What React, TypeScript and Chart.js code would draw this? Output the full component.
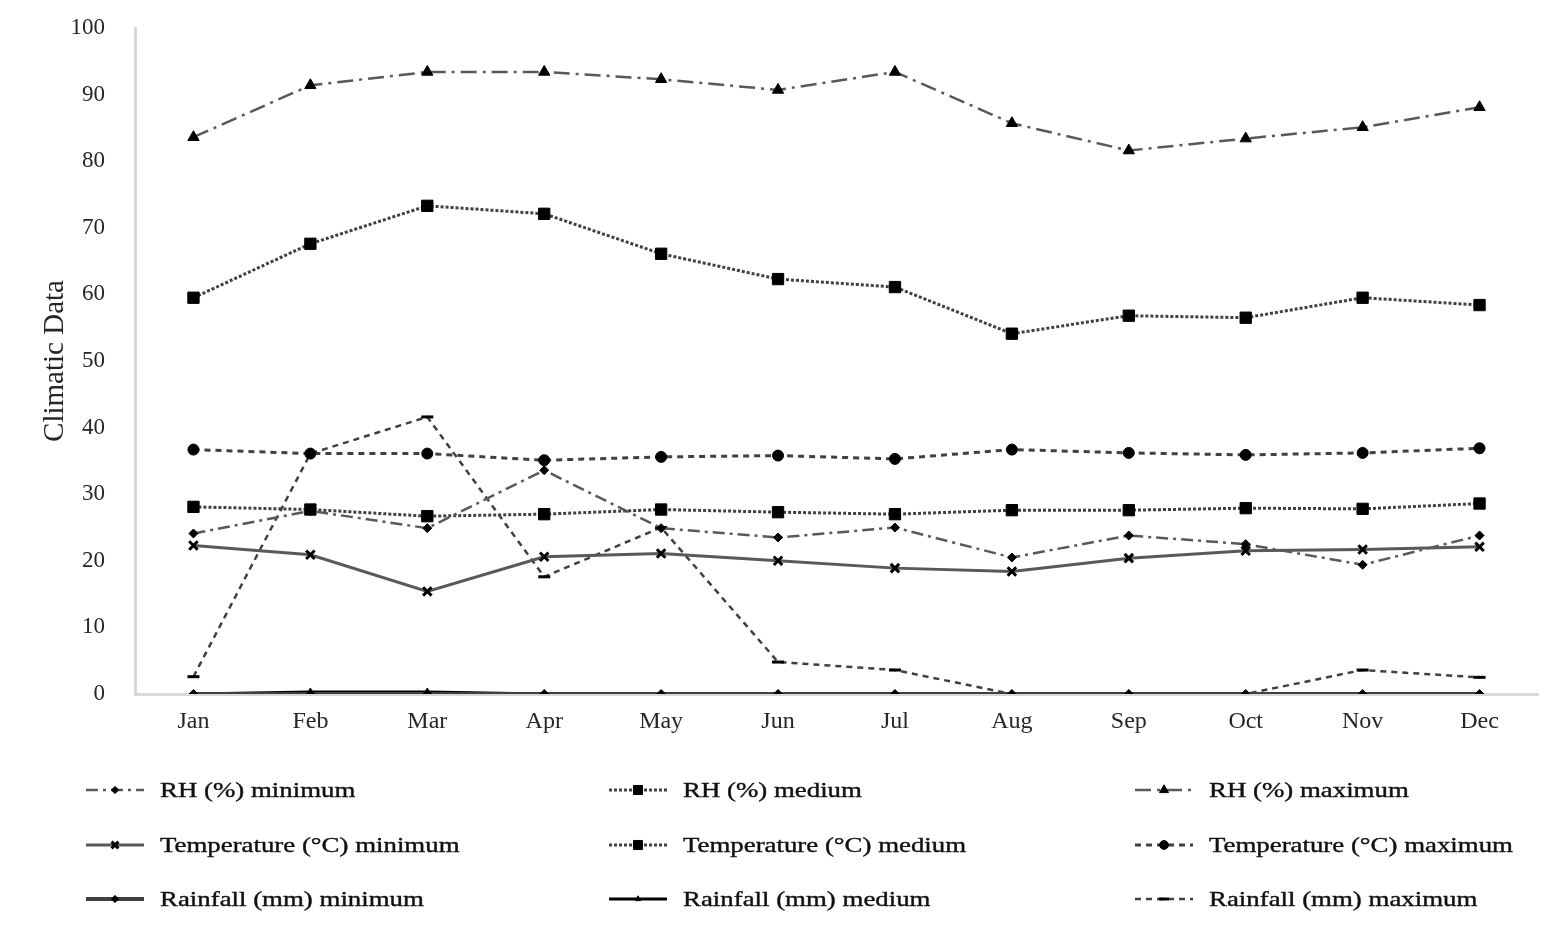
import { useEffect, useRef } from 'react';
import { Chart, registerables } from 'chart.js';
import { drawPoint } from 'chart.js/helpers';

Chart.register(...registerables);

const MONTHS = ['Jan', 'Feb', 'Mar', 'Apr', 'May', 'Jun', 'Jul', 'Aug', 'Sep', 'Oct', 'Nov', 'Dec'];

const RH_MIN = [24.1, 27.5, 24.9, 33.6, 24.9, 23.5, 25.0, 20.5, 23.8, 22.5, 19.4, 23.8];
const RH_MED = [59.5, 67.6, 73.3, 72.1, 66.1, 62.3, 61.1, 54.1, 56.8, 56.5, 59.5, 58.4];
const RH_MAX = [83.6, 91.4, 93.4, 93.4, 92.3, 90.7, 93.4, 85.7, 81.6, 83.4, 85.1, 88.1];
const TEMP_MIN = [22.3, 20.9, 15.4, 20.6, 21.1, 20.0, 18.9, 18.4, 20.4, 21.5, 21.7, 22.1];
const TEMP_MED = [28.1, 27.7, 26.7, 27.0, 27.7, 27.3, 27.0, 27.6, 27.6, 27.9, 27.8, 28.6];
const TEMP_MAX = [36.7, 36.1, 36.1, 35.1, 35.6, 35.8, 35.3, 36.7, 36.2, 35.9, 36.2, 36.9];
const RAIN_MIN = [0, 0, 0, 0, 0, 0, 0, 0, 0, 0, 0, 0];
const RAIN_MED = [0, 0.3, 0.3, 0, 0, 0, 0, 0, 0, 0, 0, 0];
const RAIN_MAX = [2.6, 36.1, 41.6, 17.6, 25.0, 4.8, 3.6, 0, 0, 0, 3.6, 2.5];

const Y_TICKS = [0, 10, 20, 30, 40, 50, 60, 70, 80, 90, 100];

const SERIF = "'Liberation Serif', 'Times New Roman', serif";
const TEXT = '#262626';

// legend laid out as 3 columns x 3 rows under the plot
const LEG_COLS = [86, 609, 1135];
const LEG_ROWS = [790, 845, 899];

const gridLegend = {
  id: 'gridLegend',
  afterDraw(chart: any) {
    const { ctx } = chart;
    chart.data.datasets.forEach((ds: any, i: number) => {
      const x = LEG_COLS[i % 3];
      const y = LEG_ROWS[Math.floor(i / 3)];
      ctx.save();
      ctx.strokeStyle = ds.borderColor;
      ctx.lineWidth = ds.borderWidth;
      ctx.setLineDash(ds.borderDash || []);
      ctx.beginPath();
      ctx.moveTo(x, y);
      ctx.lineTo(x + 58, y);
      ctx.stroke();
      ctx.setLineDash([]);
      ctx.fillStyle = ds.pointBackgroundColor;
      ctx.strokeStyle = ds.pointBorderColor;
      ctx.lineWidth = ds.pointBorderWidth;
      drawPoint(ctx, { pointStyle: ds.pointStyle, radius: ds.pointRadius * 0.8, rotation: 0, borderWidth: ds.pointBorderWidth }, x + 29, y);
      ctx.restore();

      ctx.save();
      ctx.translate(x + 74, y);
      ctx.scale(1.22, 1);
      ctx.font = `22px ${SERIF}`;
      ctx.fillStyle = '#111';
      ctx.strokeStyle = '#111';
      ctx.lineWidth = 0.4;
      ctx.textBaseline = 'middle';
      ctx.fillText(ds.label, 0, 1);
      ctx.strokeText(ds.label, 0, 1);
      ctx.restore();
    });
  },
};

function series(label: string, data: number[], dash: number[], style: string, radius: number, color = '#404040', width = 2.5) {
  return {
    label,
    data,
    borderColor: color,
    borderWidth: width,
    borderDash: dash,
    pointStyle: style,
    pointRadius: radius,
    pointBackgroundColor: '#000',
    pointBorderColor: '#000',
    pointBorderWidth: style === 'crossRot' || style === 'line' ? 3 : 1,
    tension: 0,
    fill: false,
  };
}

export default function App() {
  const canvasRef = useRef<HTMLCanvasElement>(null);
  const chartRef = useRef<Chart | null>(null);

  useEffect(() => {
    if (!canvasRef.current) return;
    chartRef.current?.destroy();
    chartRef.current = new Chart(canvasRef.current, {
      type: 'line',
      data: {
        labels: MONTHS,
        datasets: [
          series('RH (%) minimum', RH_MIN, [12, 5, 3, 5], 'rectRot', 4.5, '#595959'),
          series('RH (%) medium', RH_MED, [3, 2], 'rect', 8, '#404040', 3),
          series('RH (%) maximum', RH_MAX, [16, 6, 3, 6], 'triangle', 6.5, '#595959'),
          series('Temperature (°C) minimum', TEMP_MIN, [], 'crossRot', 6, '#595959', 3),
          series('Temperature (°C) medium', TEMP_MED, [3, 2], 'rect', 8, '#404040', 3),
          series('Temperature (°C) maximum', TEMP_MAX, [6, 5], 'circle', 5.5, '#404040', 3),
          series('Rainfall (mm) minimum', RAIN_MIN, [], 'rectRot', 4.5, '#404040', 4),
          series('Rainfall (mm) medium', RAIN_MED, [], 'triangle', 4, '#000', 3),
          series('Rainfall (mm) maximum', RAIN_MAX, [6, 5], 'line', 6, '#404040', 2.5),
        ],
      },
      options: {
        responsive: true,
        maintainAspectRatio: false,
        animation: false,
        layout: { padding: { left: 0, top: 28, right: 22, bottom: 194 } },
        plugins: {
          legend: { display: false },
          tooltip: { enabled: false },
        },
        scales: {
          x: {
            offset: true,
            grid: { display: false },
            border: { color: '#d9d9d9', width: 3 },
            ticks: {
              color: TEXT,
              padding: 5,
              font: { family: SERIF, size: 24 },
            },
            afterFit: (s: any) => {
              s.height = 50;
            },
          },
          y: {
            min: 0,
            max: 100,
            afterBuildTicks: (s: any) => {
              s.ticks = Y_TICKS.map((v) => ({ value: v }));
            },
            grid: { display: false },
            border: { color: '#d9d9d9', width: 3 },
            ticks: {
              color: TEXT,
              padding: 22,
              font: { family: SERIF, size: 23 },
            },
            title: {
              display: true,
              text: 'Climatic Data',
              color: TEXT,
              font: { family: SERIF, size: 29 },
              padding: { top: 38, bottom: 0 },
            },
            afterFit: (s: any) => {
              s.width = 135;
              s.paddingTop = 0;
              s.paddingBottom = 0;
            },
          },
        },
      },
      plugins: [gridLegend],
    });
    return () => {
      chartRef.current?.destroy();
    };
  }, []);

  return (
    <div style={{ position: 'absolute', left: 0, top: 0, width: 1560, height: 938, background: '#fff' }}>
      <canvas ref={canvasRef} />
    </div>
  );
}
